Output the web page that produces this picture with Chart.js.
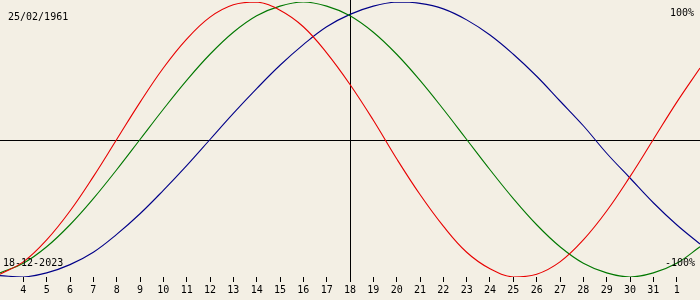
<!DOCTYPE html>
<html>
<head>
<meta charset="utf-8">
<script src="https://cdn.jsdelivr.net/npm/chart.js@4"></script>
<style>
  html, body { margin: 0; padding: 0; background: #f3efe4; }
  canvas { display: block; }
</style>
</head>
<body>
<canvas id="bioChart" width="700" height="300"></canvas>
<script>
// days shown: 3 Dec 2023 .. 2 Jan 2024
const days = ["3","4","5","6","7","8","9","10","11","12","13","14","15","16","17","18",
  "19","20","21","22","23","24","25","26","27","28","29","30","31","1","2"];

const physical = [-0.98,-0.89,-0.73,-0.52,-0.27,0,0.27,0.52,0.73,0.89,0.98,1.00,0.94,0.82,0.63,0.40,
  0.14,-0.14,-0.40,-0.63,-0.82,-0.94,-1.00,-0.98,-0.89,-0.73,-0.52,-0.27,0,0.27,0.52];
const emotional = [-0.97,-0.90,-0.78,-0.62,-0.43,-0.22,0,0.22,0.43,0.62,0.78,0.90,0.97,1.00,0.97,0.90,
  0.78,0.62,0.43,0.22,0,-0.22,-0.43,-0.62,-0.78,-0.90,-0.97,-1.00,-0.97,-0.90,-0.78];
const intellectual = [-0.99,-1.00,-0.97,-0.91,-0.82,-0.69,-0.54,-0.37,-0.19,0,0.19,0.37,0.54,0.69,0.82,0.91,
  0.97,1.00,0.99,0.95,0.87,0.76,0.62,0.46,0.28,0.10,-0.10,-0.28,-0.46,-0.62,-0.76];

const birthDate = "25/02/1961";
const todayDate = "18-12-2023";
const todayIndex = 15;
const topLabel = "100%";
const bottomLabel = "-100%";

const font = '10px "DejaVu Sans Mono", monospace';

const crossLines = {
  id: "crossLines",
  beforeDatasetsDraw(chart) {
    const c = chart.ctx;
    const x = chart.scales.x, y = chart.scales.y;
    const px = Math.round(x.getPixelForValue(todayIndex)) + 0.5;
    const py = Math.round(y.getPixelForValue(0)) + 0.5;
    c.save();
    c.strokeStyle = "#000";
    c.lineWidth = 1;
    c.beginPath();
    c.moveTo(0, py); c.lineTo(chart.width, py);
    c.moveTo(px, 0); c.lineTo(px, chart.chartArea.bottom + 5);
    c.stroke();
    c.restore();
  },
  afterDraw(chart) {
    const c = chart.ctx;
    c.save();
    c.font = font;
    c.fillStyle = "#000";
    c.textBaseline = "alphabetic";
    c.textAlign = "left";
    c.fillText(birthDate, 8, 20);
    c.fillText(todayDate, 3, 266);
    c.textAlign = "right";
    c.fillText(topLabel, 694, 16);
    c.fillText(bottomLabel, 695, 266);
    c.restore();
  }
};

function line(data, color) {
  return { data: data, borderColor: color, borderWidth: 1.1, pointRadius: 0, tension: 0.4, fill: false };
}

new Chart(document.getElementById("bioChart").getContext("2d"), {
  type: "line",
  data: {
    labels: days,
    datasets: [
      line(physical, "#e80000"),
      line(emotional, "#007800"),
      line(intellectual, "#000088")
    ]
  },
  options: {
    responsive: false,
    animation: false,
    layout: { padding: { left: 0, right: 0, top: 2, bottom: 2 } },
    plugins: { legend: { display: false }, tooltip: { enabled: false } },
    scales: {
      x: {
        offset: false,
        border: { display: false },
        afterFit: s => { s.paddingLeft = 0; s.paddingRight = 0; },
        grid: {
          drawOnChartArea: false,
          drawTicks: true,
          tickLength: 5,
          tickColor: ctx => (ctx.index === 0 || ctx.index === days.length - 1) ? "transparent" : "#000"
        },
        ticks: {
          autoSkip: false,
          maxRotation: 0,
          padding: 2,
          color: "#000",
          font: { family: "DejaVu Sans Mono", size: 10 },
          callback: (v, i) => (i === 0 || i === days.length - 1) ? "" : days[i]
        }
      },
      y: { display: false, min: -1, max: 1 }
    }
  },
  plugins: [crossLines]
});
</script>
</body>
</html>
